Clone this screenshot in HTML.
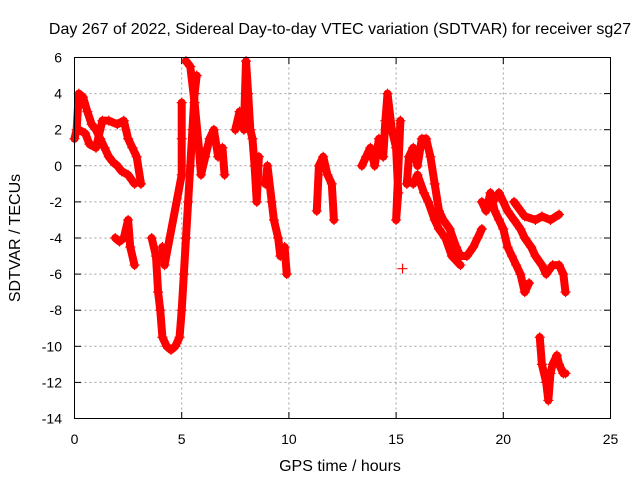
<!DOCTYPE html>
<html><head><meta charset="utf-8"><style>
body{margin:0;background:#fff;}
svg text{font-family:"Liberation Sans",sans-serif;font-size:14px;fill:#000;}
svg text.big{font-size:16px;}
</style></head><body>
<svg id="chart" width="640" height="480" xmlns="http://www.w3.org/2000/svg">
<rect width="640" height="480" fill="#fff"/>
<g id="grid"></g><g id="ticks"></g><g id="marks"></g>
<rect x="74.5" y="57.5" width="536" height="361" fill="none" stroke="#000"/>
<text class="big" x="340" y="34" text-anchor="middle">Day 267 of 2022, Sidereal Day-to-day VTEC variation (SDTVAR) for receiver sg27</text>
<text class="big" x="340" y="471" text-anchor="middle">GPS time / hours</text>
<text class="big" transform="translate(20,238) rotate(-90)" text-anchor="middle">SDTVAR / TECUs</text>
</svg>
<script>
const xTicks=[0,5,10,15,20,25];
const yTicks=[6,4,2,0,-2,-4,-6,-8,-10,-12,-14];
const segA1=[[0,1.5],[0.1,2],[0.2,4],[0.4,3.8],[0.6,3],[0.8,2.3],[1.0,2],[1.2,1.5],[1.4,1],[1.6,0.5],[1.8,0.2],[2.0,0],[2.2,-0.3],[2.5,-0.5],[2.8,-1]];
const segA2=[[0.2,2],[0.5,1.8],[0.7,1.2],[1.0,1],[1.3,2.5],[1.6,2.5],[2.0,2.3],[2.3,2.5],[2.5,1.5],[2.7,1],[2.9,0.5],[3.1,-1]];
const segA3=[[1.9,-4],[2.1,-4.2],[2.3,-4],[2.5,-3],[2.6,-4.5],[2.8,-5.5]];
const segB1=[[3.6,-4],[3.8,-5],[3.9,-7],[4.0,-8],[4.1,-9.5],[4.3,-10],[4.5,-10.2],[4.7,-10],[4.9,-9.5],[5.0,-8],[5.1,-6],[5.2,-4],[5.3,-2],[5.4,0],[5.5,2],[5.6,4],[5.7,5]];
const segB2=[[5.2,5.8],[5.4,5.5],[5.6,3.5],[5.8,1],[5.9,-0.5],[6.1,0.5],[6.3,1.5],[6.5,2],[6.7,0.5],[6.9,1],[7.0,-0.5]];
const segB3=[[4.1,-4.5],[4.2,-5.5],[5.0,-0.5],[5.0,1.5],[5.0,3.5]];
const segC=[[7.5,2],[7.7,3],[7.9,2],[8.0,5.8],[8.1,4],[8.2,2],[8.3,1.5],[8.4,0],[8.5,-2],[8.6,0.5]];
const segD=[[8.9,-1],[9.0,0],[9.2,-2],[9.3,-3],[9.5,-4],[9.6,-5],[9.8,-4.5],[9.9,-6]];
const segE=[[11.3,-2.5],[11.4,0],[11.6,0.5],[11.8,-0.5],[12.0,-1],[12.1,-3]];
const segF=[[13.4,0],[13.6,0.5],[13.8,1],[14.0,0],[14.2,1.5],[14.4,0.5],[14.5,2.5],[14.6,4],[14.8,2],[15.0,1],[15.1,-1.5],[15.0,-3],[15.2,2.5]];
const segF2=[[15.3,-5.7]];
const segG1=[[15.5,-1],[15.6,0.5],[15.8,1],[16.0,0],[16.2,1.5],[16.4,1.5],[16.6,0.5],[16.8,-1],[17.0,-2.5],[17.2,-3],[17.5,-3.5],[17.8,-4.5],[18.0,-5],[18.3,-5],[18.6,-4.5],[18.8,-4],[19.0,-3.5]];
const segG2=[[15.8,-1],[16.0,-0.5],[16.3,-1.5],[16.5,-2],[16.8,-3],[17.0,-3.5],[17.3,-4],[17.6,-5],[18.0,-5.5]];
const segH1=[[19.0,-2],[19.2,-2.5],[19.4,-1.5],[19.6,-2.5],[19.8,-3],[20.0,-3.5],[20.2,-4.5],[20.4,-5],[20.6,-5.5],[20.8,-6],[21.0,-7],[21.2,-6.5]];
const segH2=[[19.5,-2],[19.8,-1.5],[20.0,-2],[20.2,-2.5],[20.5,-3],[20.8,-3.5],[21.0,-4],[21.3,-4.5],[21.5,-5],[21.8,-5.5],[22.0,-6],[22.3,-5.5],[22.6,-5.5],[22.8,-6],[22.9,-7]];
const segH3=[[20.5,-2],[21.0,-2.8],[21.5,-3],[21.8,-2.8],[22.2,-3],[22.6,-2.7]];
const segI=[[21.7,-9.5],[21.8,-11],[22.0,-12],[22.1,-13],[22.2,-11.5],[22.3,-11],[22.5,-10.5],[22.6,-11],[22.8,-11.5],[22.9,-11.5]];
const series=[segA1,segA2,segA3,segB1,segB2,segB3,segC,segD,segE,segF,segF2,segG1,segG2,segH1,segH2,segH3,segI];
const NS="http://www.w3.org/2000/svg";
const X=t=>74.5+t*(536/25);
const Y=v=>57.5+(6-v)*(361/20);
const grid=document.getElementById('grid'),ticks=document.getElementById('ticks'),marks=document.getElementById('marks');
function mk(tag,attrs,parent){const e=document.createElementNS(NS,tag);for(const k in attrs)e.setAttribute(k,attrs[k]);parent.appendChild(e);return e;}
xTicks.forEach(t=>{
  if(t>0&&t<25){const g=mk('line',{x1:X(t),x2:X(t),y1:57.5,y2:418.5,stroke:'#a0a0a0','stroke-dasharray':'2,3'},grid);
  
  }
  mk('line',{x1:X(t),x2:X(t),y1:418.5,y2:412,stroke:'#000'},ticks);
  mk('line',{x1:X(t),x2:X(t),y1:57.5,y2:64,stroke:'#000'},ticks);
  const l=mk('text',{x:X(t),y:444,'text-anchor':'middle'},ticks);l.textContent=t;
  
  
});
yTicks.forEach(v=>{
  if(v<6&&v>-14){const g=mk('line',{x1:74.5,x2:610.5,y1:Y(v),y2:Y(v),stroke:'#a0a0a0','stroke-dasharray':'2,3'},grid);
  
  }
  mk('line',{x1:74.5,x2:81,y1:Y(v),y2:Y(v),stroke:'#000'},ticks);
  mk('line',{x1:610.5,x2:604,y1:Y(v),y2:Y(v),stroke:'#000'},ticks);
  const l=mk('text',{x:62,y:Y(v)+5,'text-anchor':'end'},ticks);l.textContent=v;
  
  
});
series.forEach(s=>{
  if(s.length>1){const p=mk('polyline',{points:s.map(d=>X(d[0])+','+Y(d[1])).join(' '),fill:'none',stroke:'#f00','stroke-width':8,'stroke-linejoin':'round','stroke-linecap':'round'},marks);
  
  }
  s.forEach(d=>{const x=X(d[0]),y=Y(d[1]);
    const m=mk('path',{d:`M${x-5},${y}H${x+5}M${x},${y-5}V${y+5}`,stroke:'#f00','stroke-width':1.2},marks);
    
    
  });
});
</script>
</body></html>
